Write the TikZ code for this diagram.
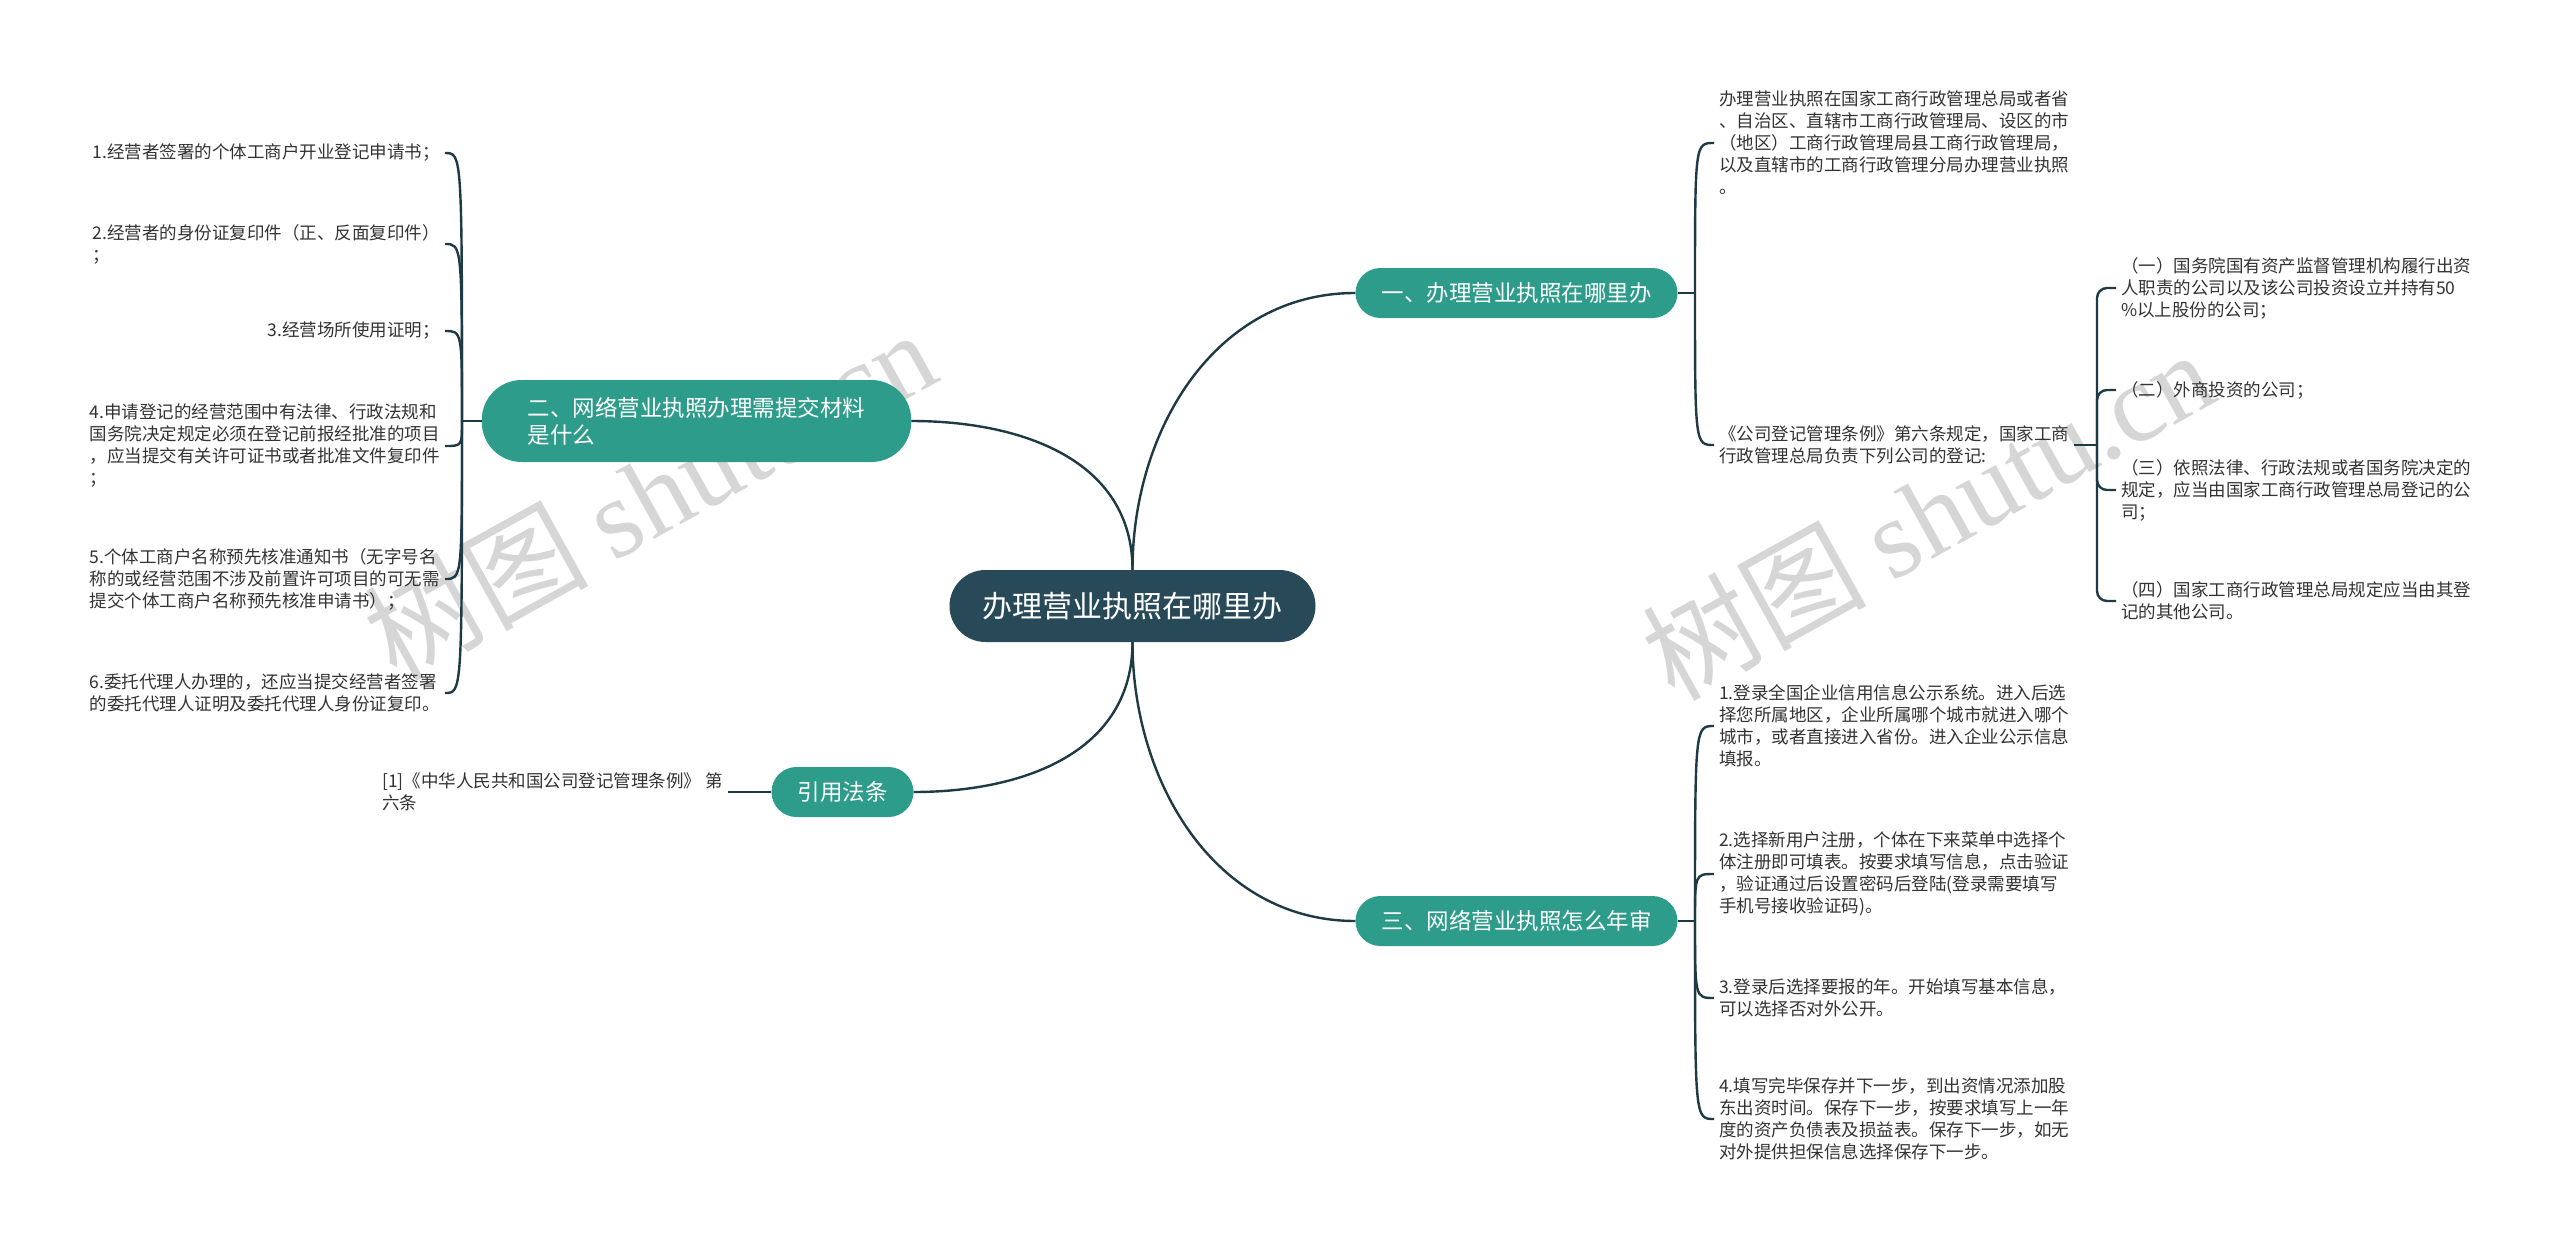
\documentclass[tikz,border=0pt]{standalone}
\usepackage{fontspec}
\setmainfont{Noto Sans CJK SC}
\newfontfamily\wmlatin{Liberation Serif}
\definecolor{rootcol}{HTML}{284A58}
\definecolor{branchcol}{HTML}{2E9C8A}
\definecolor{linecol}{HTML}{1E3A44}
\definecolor{leaftext}{HTML}{333333}

\begin{document}
\begin{tikzpicture}[x=1pt,y=-1pt,
  conn/.style={draw=linecol,line width=2.4pt},
  root node/.style={fill=rootcol,text=white,rounded corners=36pt,minimum height=72pt,inner xsep=33pt,font=\fontsize{30}{36}\selectfont},
  branch node/.style={fill=branchcol,text=white,rounded corners=25pt,minimum height=50pt,inner xsep=26pt,font=\fontsize{22.5}{27}\selectfont},
  leaf node/.style={text=leaftext,align=left,inner xsep=5pt,inner ysep=2pt,font=\fontsize{17.5}{22}\selectfont},
  wm node/.style={text=black!16,rotate=29,font=\fontsize{112}{112}\selectfont}]

  \fill[white] (0,0) rectangle (2560,1247);
  \useasboundingbox (0,0) rectangle (2560,1247);

  % watermarks
  \node[wm node] at (649,494) (wm1) {树图 {\wmlatin shutu.cn}};
  \node[wm node] at (1927,514) (wm2) {树图 {\wmlatin shutu.cn}};

  % root and branches
  \node[root node] at (1132.5,606) (0) {办理营业执照在哪里办};
  \node[branch node] at (1516.5,293) (1) {一、办理营业执照在哪里办};
  \node[branch node,align=left,minimum height=82pt,rounded corners=40pt,inner xsep=46pt] at (696.5,421) (2) {二、网络营业执照办理需提交材料\\是什么};
  \node[branch node] at (842.5,792) (3) {引用法条};
  \node[branch node] at (1516.5,921) (4) {三、网络营业执照怎么年审};

  % branch 1
  \node[leaf node,anchor=west] at (1714,143) (10) {办理营业执照在国家工商行政管理总局或者省\\、自治区、直辖市工商行政管理局、设区的市\\（地区）工商行政管理局县工商行政管理局，\\以及直辖市的工商行政管理分局办理营业执照\\。};
  \node[leaf node,anchor=west] at (1714,445) (11) {《公司登记管理条例》第六条规定，国家工商\\行政管理总局负责下列公司的登记:};
  \node[leaf node,anchor=west] at (2116,288) (110) {（一）国务院国有资产监督管理机构履行出资\\人职责的公司以及该公司投资设立并持有50\\\%以上股份的公司；};
  \node[leaf node,anchor=west] at (2116,390) (111) {（二）外商投资的公司；};
  \node[leaf node,anchor=west] at (2116,490) (112) {（三）依照法律、行政法规或者国务院决定的\\规定，应当由国家工商行政管理总局登记的公\\司；};
  \node[leaf node,anchor=west] at (2116,601) (113) {（四）国家工商行政管理总局规定应当由其登\\记的其他公司。};

  % branch 2
  \node[leaf node,anchor=east] at (445,153) (20) {1.经营者签署的个体工商户开业登记申请书；};
  \node[leaf node,anchor=east] at (445,244) (21) {2.经营者的身份证复印件（正、反面复印件）\\；};
  \node[leaf node,anchor=east] at (445,331) (22) {3.经营场所使用证明；};
  \node[leaf node,anchor=east] at (445,446) (23) {4.申请登记的经营范围中有法律、行政法规和\\国务院决定规定必须在登记前报经批准的项目\\，应当提交有关许可证书或者批准文件复印件\\；};
  \node[leaf node,anchor=east] at (445,579) (24) {5.个体工商户名称预先核准通知书（无字号名\\称的或经营范围不涉及前置许可项目的可无需\\提交个体工商户名称预先核准申请书）；};
  \node[leaf node,anchor=east] at (445,693) (25) {6.委托代理人办理的，还应当提交经营者签署\\的委托代理人证明及委托代理人身份证复印。};

  % branch 3
  \node[leaf node,anchor=east] at (728,792) (30) {[1]《中华人民共和国公司登记管理条例》 第\\六条};

  % branch 4
  \node[leaf node,anchor=west] at (1714,726) (40) {1.登录全国企业信用信息公示系统。进入后选\\择您所属地区，企业所属哪个城市就进入哪个\\城市，或者直接进入省份。进入企业公示信息\\填报。};
  \node[leaf node,anchor=west] at (1714,874) (41) {2.选择新用户注册，个体在下来菜单中选择个\\体注册即可填表。按要求填写信息，点击验证\\，验证通过后设置密码后登陆(登录需要填写\\手机号接收验证码)。};
  \node[leaf node,anchor=west] at (1714,998) (42) {3.登录后选择要报的年。开始填写基本信息，\\可以选择否对外公开。};
  \node[leaf node,anchor=west] at (1714,1119) (43) {4.填写完毕保存并下一步，到出资情况添加股\\东出资时间。保存下一步，按要求填写上一年\\度的资产负债表及损益表。保存下一步，如无\\对外提供担保信息选择保存下一步。};

  \coordinate (1s) at (1695,293);
  \coordinate (2s) at (462,421);
  \coordinate (4s) at (1695,921);
  \coordinate (11s) at (2097,445);

  % root to branches
  \draw[conn] (0.north) .. controls +(0,-140) and +(-140,0) .. (1.west);
  \draw[conn] (0.north) .. controls +(0,-110) and +(110,0) .. (2.east);
  \draw[conn] (0.south) .. controls +(0,110) and +(110,0) .. (3.east);
  \draw[conn] (0.south) .. controls +(0,140) and +(-140,0) .. (4.west);

  % branch to leaves
  \draw[conn] (1.east) -- (1s);
  \foreach \n in {10,11}
    \draw[conn] (1s) .. controls (1s |- \n) .. (\n.west);
  \draw[conn] (11.east) -- (11s);
  \foreach \n in {110,111,112,113}
    \draw[conn,rounded corners=10pt] (11s) |- (\n.west);
  \draw[conn] (2.west) -- (2s);
  \foreach \n in {20,21,22,23,24,25}
    \draw[conn] (2s) .. controls (2s |- \n) .. (\n.east);
  \draw[conn] (3.west) -- (30.east);
  \draw[conn] (4.east) -- (4s);
  \foreach \n in {40,41,42,43}
    \draw[conn] (4s) .. controls (4s |- \n) .. (\n.west);
\end{tikzpicture}
\end{document}
